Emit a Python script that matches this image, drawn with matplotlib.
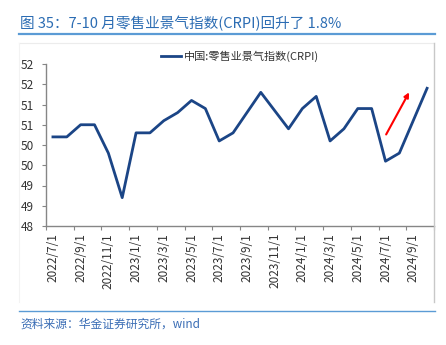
import matplotlib
matplotlib.use("Agg")
import matplotlib.pyplot as plt
from matplotlib.lines import Line2D
import numpy as np

plt.rcParams['font.family'] = ['Noto Sans CJK SC', 'DejaVu Sans']

# monthly CRPI, 2022/7 .. 2024/10
months = []
for y in (2022, 2023, 2024):
    for m in range(1, 13):
        if (y, m) >= (2022, 7) and (y, m) <= (2024, 10):
            months.append("%d/%d/1" % (y, m))

crpi = [50.2, 50.2, 50.5, 50.5, 49.8, 48.7, 50.3, 50.3, 50.6, 50.8,
        51.1, 50.9, 50.1, 50.3, 50.8, 51.3, 50.85, 50.4, 50.9, 51.2,
        50.1, 50.4, 50.9, 50.9, 49.6, 49.8, 50.6, 51.4]

y_ticks = [48, 48.5, 49, 49.5, 50, 50.5, 51, 51.5, 52]
y_tick_labels = ['48', '49', '49', '50', '50', '51', '51', '52', '52']

arrow_start = (23.95, 50.2)
arrow_end = (25.8, 51.36)

title = "图 35：7-10 月零售业景气指数(CRPI)回升了 1.8%"
series_name = "中国:零售业景气指数(CRPI)"
source = "资料来源：华金证券研究所，wind"

W, H = 446, 345
fig = plt.figure(figsize=(W / 100, H / 100), dpi=100)

def fx(px):
    return px / W

def fy(py):
    return 1 - py / H

# header / footer
fig.text(fx(20), fy(23), title, color='#2b6cb3', fontsize=10.5, va='center', ha='left')
fig.add_artist(Line2D([fx(19), fx(435)], [fy(34), fy(34)], color='#5b9bd5', lw=1.6))
fig.add_artist(Line2D([fx(19), fx(435)], [fy(311), fy(311)], color='#5b9bd5', lw=1.0))
fig.text(fx(20), fy(324), source, color='#3a6db5', fontsize=8.5, style='italic',
         va='center', ha='left')

# chart frame
fig.add_artist(Line2D([fx(19), fx(434)], [fy(43), fy(43)], color='#ececec', lw=0.8))
fig.add_artist(Line2D([fx(434), fx(434)], [fy(43), fy(302)], color='#c8c8c8', lw=1.0))
fig.add_artist(Line2D([fx(19), fx(19)], [fy(43), fy(302)], color='#f3f3f3', lw=0.8))

ax = fig.add_axes([fx(46), fy(226), fx(434) - fx(46), fy(64) - fy(226)])
x = np.arange(len(crpi))
ax.plot(x, crpi, color='#1b4586', lw=2.0, label=series_name)

ax.annotate('', xy=arrow_end, xytext=arrow_start,
            arrowprops=dict(arrowstyle='-|>', color='#ff0000', lw=1.5,
                            mutation_scale=7))

ax.set_ylim(48, 52)
ax.set_xlim(-0.5, len(crpi) - 0.5)
ax.set_yticks(y_ticks)
ax.set_yticklabels(y_tick_labels)

ax.set_xticks(np.arange(-0.5, len(crpi), 2))
ax.set_xticklabels([])
ax.set_xticks(x[::2], minor=True)
ax.set_xticklabels(months[::2], minor=True, rotation=90)
ax.tick_params(axis='x', which='major', length=3, color='#868686', direction='out')
ax.tick_params(axis='x', which='minor', length=0, pad=5, labelsize=8.5, labelcolor='#333333')
ax.tick_params(axis='y', length=3, color='#868686', direction='out', labelsize=8.5,
               labelcolor='#333333', pad=6)

for s in ('top', 'right'):
    ax.spines[s].set_visible(False)
for s in ('left', 'bottom'):
    ax.spines[s].set_color('#868686')
    ax.spines[s].set_linewidth(1.0)

leg = ax.legend(loc='center', bbox_to_anchor=(0.5, 1.05), frameon=False,
                fontsize=8, handlelength=1.8, handletextpad=0.2, borderaxespad=0)
for t in leg.get_texts():
    t.set_color('#333333')

fig.savefig('out.png', dpi=100)
